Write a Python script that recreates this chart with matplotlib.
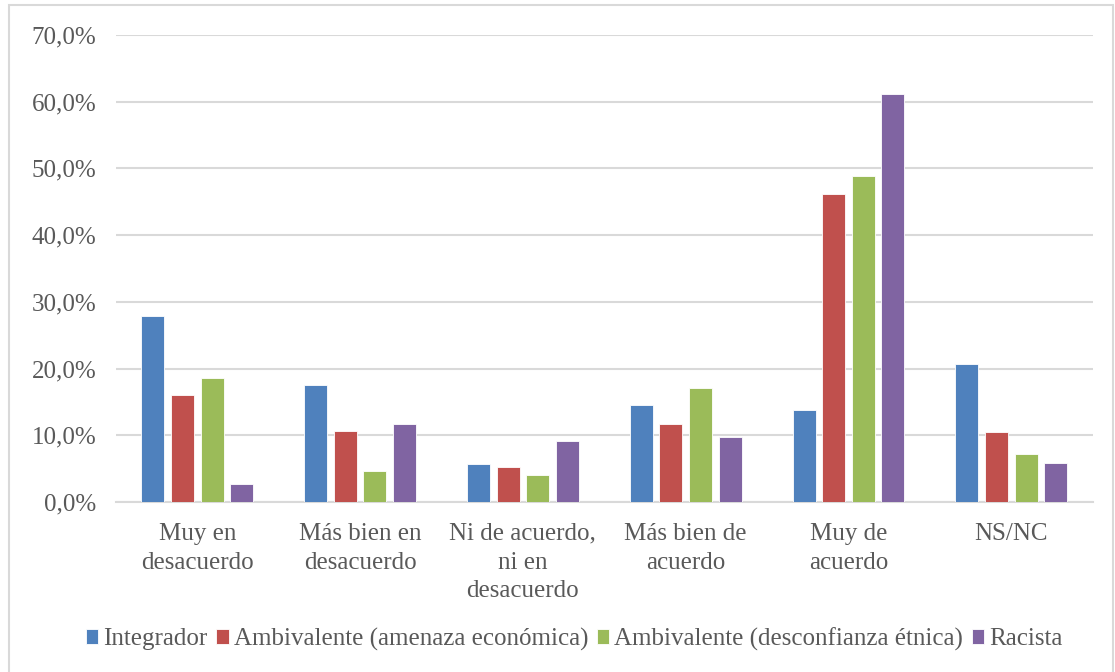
import numpy as np
import matplotlib.pyplot as plt
from matplotlib.patches import Rectangle
from matplotlib.ticker import FuncFormatter

categories = ["Muy en\ndesacuerdo", "Más bien en\ndesacuerdo",
              "Ni de acuerdo,\nni en\ndesacuerdo", "Más bien de\nacuerdo",
              "Muy de\nacuerdo", "NS/NC"]
series_names = ["Integrador", "Ambivalente (amenaza económica)",
                "Ambivalente (desconfianza étnica)", "Racista"]
integrador = [27.9, 17.5, 5.7, 14.5, 13.8, 20.7]
amb_economica = [16.0, 10.7, 5.2, 11.7, 46.2, 10.5]
amb_etnica = [18.6, 4.6, 4.0, 17.1, 48.9, 7.2]
racista = [2.7, 11.7, 9.1, 9.7, 61.1, 5.9]

colors = ["#4F81BD", "#C0504D", "#9BBB59", "#8064A2"]
values = [integrador, amb_economica, amb_etnica, racista]

plt.rcParams['font.family'] = ['Liberation Serif', 'DejaVu Serif']
text_color = "#595959"

fig = plt.figure(figsize=(11.15, 6.72), dpi=100)
ax = fig.add_axes([0.104, 0.253, 0.876, 0.695])

# chart frame
fig.patches.append(Rectangle((0.008, -0.01), 0.99, 1.002, transform=fig.transFigure,
                             fill=False, edgecolor="#D9D9D9", linewidth=1.5))

x = np.arange(len(categories))
step = 0.182
width = 0.141
for i, (vals, col, name) in enumerate(zip(values, colors, series_names)):
    ax.bar(x + (i - 1.5) * step, vals, width=width, color=col,
           edgecolor="white", linewidth=0.6, label=name, zorder=3)

ax.set_xlim(-0.5, len(categories) - 0.5)
ax.set_ylim(0, 70)
ax.set_yticks(np.arange(0, 71, 10))
ax.yaxis.set_major_formatter(FuncFormatter(lambda v, p: f"{v:.1f}%".replace(".", ",")))
ax.set_xticks(x)
ax.set_xticklabels(categories, fontsize=18, color=text_color, linespacing=1.4)
ax.tick_params(axis='y', labelsize=18, labelcolor=text_color, length=0, pad=14)
ax.tick_params(axis='x', length=0, pad=15)

ax.grid(axis='y', color="#D9D9D9", linewidth=1.5, zorder=0)
for s in ['top', 'right', 'left']:
    ax.spines[s].set_visible(False)
ax.spines['bottom'].set_color("#D9D9D9")
ax.spines['bottom'].set_linewidth(1.5)

fig.legend(loc='center', bbox_to_anchor=(0.515, 0.049), ncol=4, frameon=False,
           fontsize=18, labelcolor=text_color, handlelength=0.5, handleheight=0.55,
           handletextpad=0.2, columnspacing=0.35)

fig.savefig("out.png", dpi=100)
